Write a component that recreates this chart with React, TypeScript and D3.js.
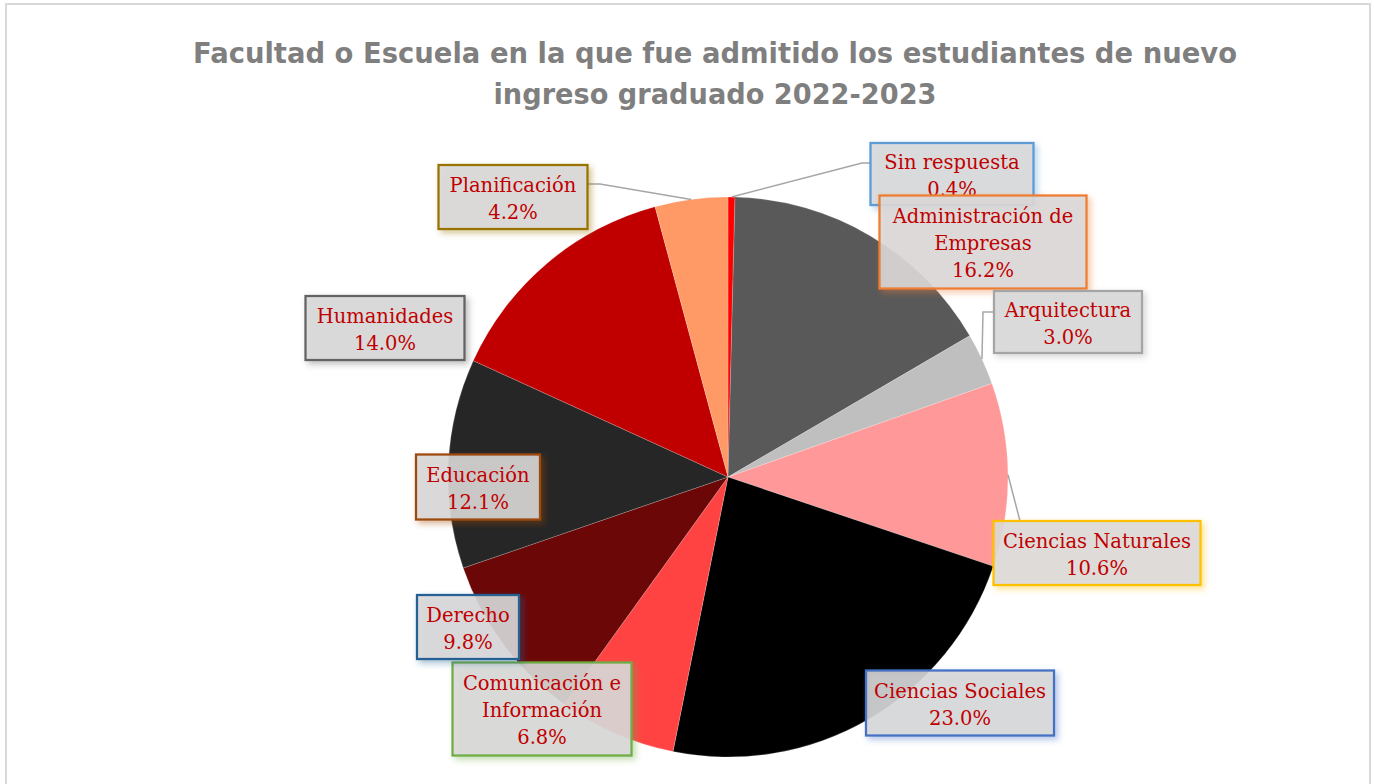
import React from 'react'
import * as d3 from 'd3'

const width = 1374
const height = 784

const titleLines = [
  'Facultad o Escuela en la que fue admitido los estudiantes de nuevo',
  'ingreso graduado 2022-2023',
]

const categories = [
  'Sin respuesta',
  'Administración de Empresas',
  'Arquitectura',
  'Ciencias Naturales',
  'Ciencias Sociales',
  'Comunicación e Información',
  'Derecho',
  'Educación',
  'Humanidades',
  'Planificación',
]
const shares = [0.4, 16.2, 3.0, 10.6, 23.0, 6.8, 9.8, 12.1, 14.0, 4.2]
// label text lines (Excel wraps the long names)
const labelLines = [
  ['Sin respuesta'],
  ['Administración de', 'Empresas'],
  ['Arquitectura'],
  ['Ciencias Naturales'],
  ['Ciencias Sociales'],
  ['Comunicación e', 'Información'],
  ['Derecho'],
  ['Educación'],
  ['Humanidades'],
  ['Planificación'],
]

const sliceColors = ['#ff0000', '#595959', '#bfbfbf', '#ff9999', '#000000', '#ff4343', '#6b0707', '#262626', '#c00000', '#ff9966']
const borderColors = ['#5b9bd5', '#ed7d31', '#a5a5a5', '#ffc000', '#4472c4', '#70ad47', '#255e91', '#9e480e', '#636363', '#997300']

const cx = 728
const cy = 477
const radius = 280

// label boxes: centre, size, optional leader elbow / end
const boxes = [
  { x: 952, y: 174, w: 163, h: 62, leader: [[862, 163], [871, 163]] },
  { x: 983, y: 242, w: 207, h: 93 },
  { x: 1068, y: 322, w: 148, h: 62, leader: [[983, 312], [994, 312]] },
  { x: 1097, y: 553, w: 207, h: 64, leader: [[1020, 521]] },
  { x: 960, y: 703, w: 188, h: 65 },
  { x: 542, y: 709, w: 179, h: 93 },
  { x: 468, y: 627, w: 102, h: 64 },
  { x: 478, y: 487, w: 124, h: 65 },
  { x: 385, y: 328, w: 159, h: 64 },
  { x: 513, y: 197, w: 149, h: 64, leader: [[600, 184], [588, 184]] },
]

const App = () => {
  const pie = d3.pie<number>().sort(null).value(d => d)
  const arcs = pie(shares)
  const arcGen = d3.arc<d3.PieArcDatum<number>>().innerRadius(0).outerRadius(radius)

  const edgePoint = (a: d3.PieArcDatum<number>) => {
    const mid = (a.startAngle + a.endAngle) / 2
    return [cx + radius * Math.sin(mid), cy - radius * Math.cos(mid)]
  }

  const lineGen = d3.line()
  const lineH = 27

  return (
    <svg width={width} height={height} style={{ position: 'absolute', left: 0, top: 0, background: '#fff' }}>
      <defs>
        {borderColors.map((c, i) => (
          <filter key={i} id={`sh${i}`} x='-20%' y='-20%' width='150%' height='160%'>
            <feDropShadow dx='3' dy='3' stdDeviation='3' floodColor={c} floodOpacity='0.45' />
          </filter>
        ))}
      </defs>
      <rect x={6} y={4} width={1364} height={800} fill='#fff' stroke='#d9d9d9' strokeWidth={2} />

      {titleLines.map((t, i) => (
        <text key={i} x={715} y={63 + i * 41} textAnchor='middle'
          fontFamily='"DejaVu Sans", sans-serif' fontWeight='bold' fontSize={28} fill='#7f7f7f'
          textLength={i === 0 ? 1044 : 443} lengthAdjust='spacingAndGlyphs'>{t}</text>
      ))}

      <g transform={`translate(${cx},${cy})`}>
        {arcs.map((a, i) => (
          <path key={i} d={arcGen(a) || ''} fill={sliceColors[i]} stroke='#ffffff' strokeOpacity={0.25} strokeWidth={0.75} />
        ))}
      </g>

      {arcs.map((a, i) => {
        const b = boxes[i]
        if (!b.leader) return null
        const pts = [edgePoint(a), ...b.leader] as [number, number][]
        return <path key={i} d={lineGen(pts) || ''} fill='none' stroke='#a6a6a6' strokeWidth={1.5} />
      })}

      {arcs.map((a, i) => {
        const b = boxes[i]
        const lines = [...labelLines[i], `${shares[i].toFixed(1)}%`]
        const top = b.y - ((lines.length - 1) * lineH) / 2
        return (
          <g key={i}>
            <rect x={b.x - b.w / 2} y={b.y - b.h / 2} width={b.w} height={b.h}
              fill='#d9d9d9' fillOpacity={0.88} stroke={borderColors[i]} strokeWidth={2.25}
              filter={`url(#sh${i})`} />
            {lines.map((l, j) => (
              <text key={j} x={b.x} y={top + j * lineH + 1} dy='0.36em' textAnchor='middle'
                fontFamily='"DejaVu Serif", serif' fontSize={19.5} fill='#c00000'>{l}</text>
            ))}
          </g>
        )
      })}
    </svg>
  )
}

export default App
